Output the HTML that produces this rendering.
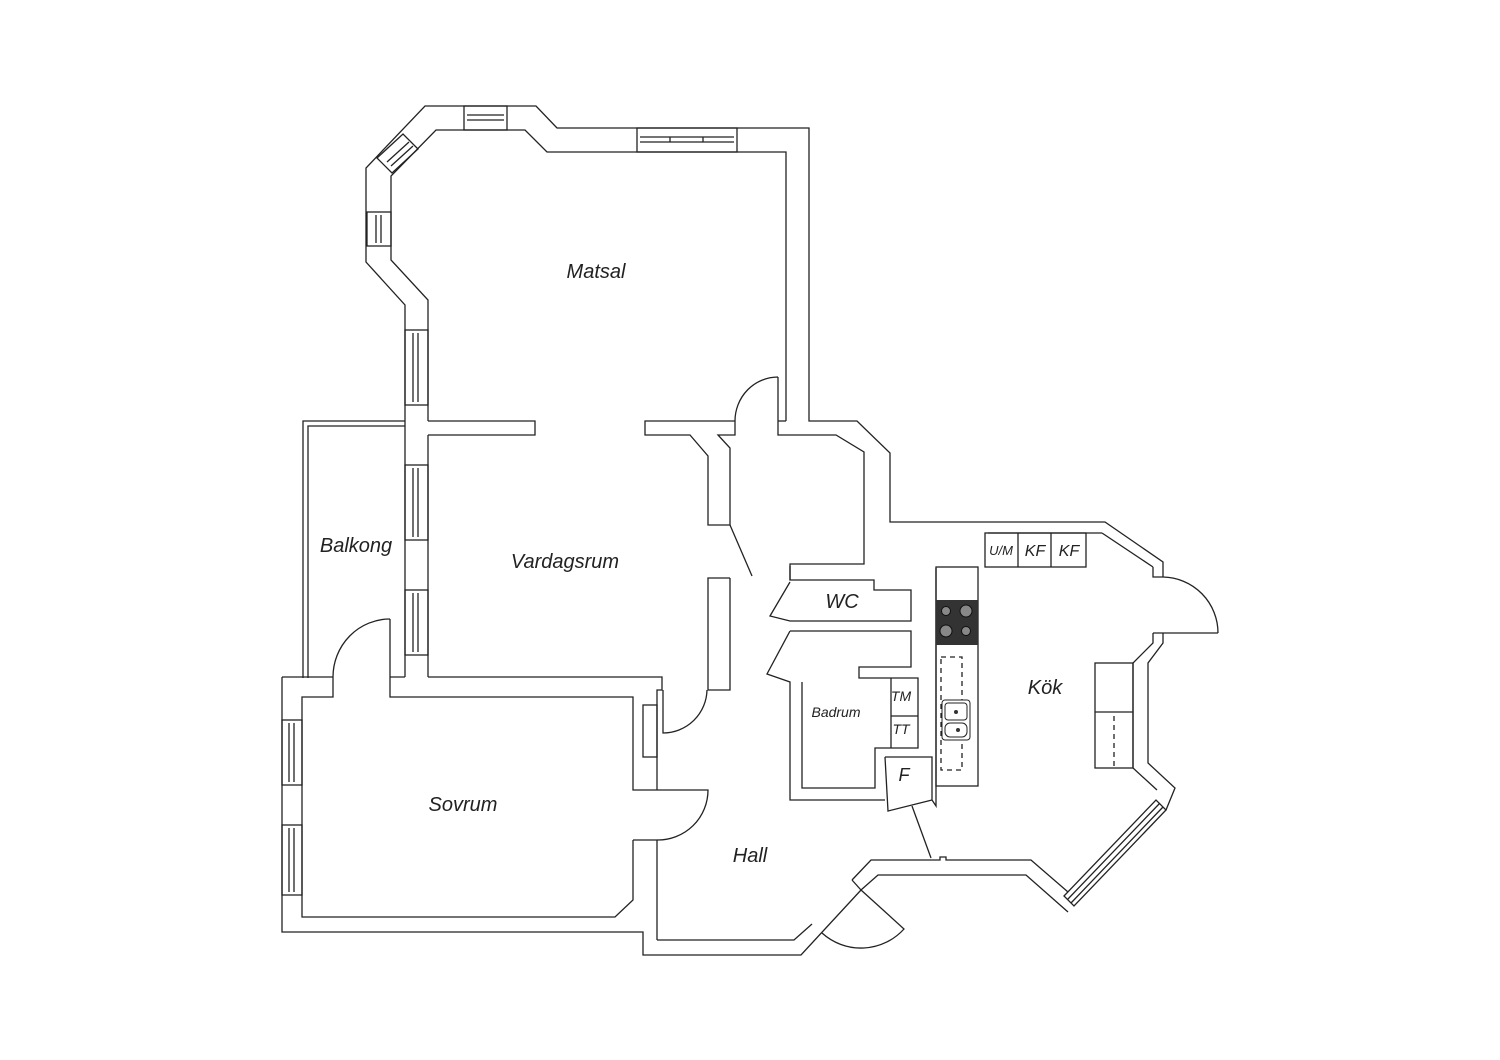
<!DOCTYPE html>
<html><head><meta charset="utf-8"><style>
html,body{margin:0;padding:0;background:#fff;width:1500px;height:1060px;overflow:hidden}
svg{display:block}
text{font-family:"Liberation Sans",sans-serif;font-style:italic;fill:#222}
</style></head><body>
<svg width="1500" height="1060" viewBox="0 0 1500 1060" xmlns="http://www.w3.org/2000/svg">
<g fill="none" stroke="#222" stroke-width="1.3" stroke-linejoin="miter">
<path d="M405,421 V305 L366,262 V168 L425,106 H536 L557,128 H809 V421 H857 L890,453 V522 H1105 L1163,562 V577"/>
<path d="M428,421 V300 L391,260 V176 L436,130 H525 L547,152 H786 V421"/>
<path d="M405,421 V677 M428,435 V677"/>
<path d="M428,421 H535 V435 H428"/>
<path d="M735,421 H645 V435 H690 L708,456 V525 H730 V448 L718,435 H735 V421"/>
<path d="M730,578 V690 H708 V578 H730"/>
<path d="M730,525 L752,576"/>
<path d="M778,377 V421 M778,377 A43,44 0 0 0 735,421"/>
<path d="M778,421 V435 H836 L864,452 V564 H790 V580"/>
<path d="M778,421 H786"/>
<path d="M303,678 V421 H405 M308,678 V426 H405"/>
<path d="M428,677 H662 V690 H657 V790"/>
<path d="M282,677 H333 M390,677 H405"/>
<path d="M390,619 V697 H633 V790 H657 M633,840 H657 V940"/>
<path d="M390,619 A57,58 0 0 0 333,677 V697 H302 V917 H615 L633,900 V840"/>
<path d="M282,677 V932 H643 V955 H801 L861,890 L878,875 H1026 L1068,912"/>
<rect x="643" y="705" width="14" height="52"/>
<path d="M663,690 V733 A44,44 0 0 0 707,690"/>
<path d="M657,790 H708 A50,50 0 0 1 657,840"/>
<path d="M657,940 H794 L812,924"/>
<path d="M852,880 L871,860 H940 V857 H946 V860 H1031 L1068,892"/>
<path d="M852,880 L861,890"/>
<path d="M861,890 L904,929 A58,58 0 0 1 822,933"/>
<path d="M1064,896 L1156,800 L1166,810 L1074,906 Z M1068,899 L1160,803 M1071,903 L1163,807"/>
<path d="M1166,810 L1175,788 L1148,763 V663 L1163,643 V633 M1157,790 L1133,768 V663 L1153,643 V633"/>
<path d="M1153,633 H1218 M1218,633 A56,56 0 0 0 1163,577 M1153,567 V577 H1163 M1102,533 H988 M1102,533 L1153,567"/>
<rect x="985" y="533" width="101" height="34"/>
<path d="M1018,533 V567 M1051,533 V567"/>
<rect x="936" y="567" width="42" height="219"/>
<rect x="1095" y="663" width="38" height="105"/>
<path d="M1095,712 H1133"/>
<path d="M1114,716 V766" stroke-dasharray="5,4"/>
<rect x="941" y="657" width="21" height="113" stroke-dasharray="5,4"/>
<path d="M790,566 V580 H874 V590 H911 V621 H790 L770,616 L790,582"/>
<path d="M790,631 H911 V667 H859 V678 H918 V748 H875 V788 H802 V682"/>
<path d="M790,631 L767,674 L790,682 V800 H885"/>
<path d="M891,678 V748 M891,716 H918"/>
<path d="M885,757 H932 V800 L888,811 L885,757 M932,800 L936,806 V568"/>
<path d="M912,806 L931,858"/>
<rect x="464" y="106" width="43" height="24"/>
<path d="M467,115 H504 M467,120 H504"/>
<rect x="637" y="128" width="100" height="24"/>
<path d="M640,137 H734 M640,142 H734 M670,137 V142 M703,137 V142"/>
<rect x="367" y="212" width="24" height="34"/>
<path d="M376,215 V243 M381,215 V243"/>
<path d="M377,158 L403,134 L418,149 L392,173 Z M387,162 L409,142 M391,166 L413,146"/>
<rect x="405" y="330" width="23" height="75"/>
<path d="M413,333 V402 M418,333 V402"/>
<rect x="405" y="465" width="23" height="75"/>
<path d="M413,468 V537 M418,468 V537"/>
<rect x="405" y="590" width="23" height="65"/>
<path d="M413,593 V652 M418,593 V652"/>
<rect x="282" y="720" width="20" height="65"/>
<path d="M289,723 V782 M294,723 V782"/>
<rect x="282" y="825" width="20" height="70"/>
<path d="M289,828 V892 M294,828 V892"/>
</g>
<rect x="936" y="600" width="42" height="45" fill="#333"/>
<circle cx="946" cy="611" r="4.5" fill="#888" stroke="#111"/>
<circle cx="966" cy="611" r="6" fill="#888" stroke="#111"/>
<circle cx="946" cy="631" r="6" fill="#888" stroke="#111"/>
<circle cx="966" cy="631" r="4.5" fill="#888" stroke="#111"/>
<rect x="942" y="700" width="28" height="40" rx="3" fill="#fff" stroke="#222"/>
<rect x="945" y="703" width="22" height="17" rx="3" fill="#fff" stroke="#222"/>
<rect x="945" y="723" width="22" height="14" rx="5" fill="#fff" stroke="#222"/>
<circle cx="956" cy="712" r="2" fill="#333"/><circle cx="958" cy="730" r="2" fill="#333"/>
<text x="596" y="278" font-size="20" text-anchor="middle">Matsal</text>
<text x="565" y="568" font-size="20" text-anchor="middle">Vardagsrum</text>
<text x="356" y="552" font-size="20" text-anchor="middle">Balkong</text>
<text x="463" y="811" font-size="20" text-anchor="middle">Sovrum</text>
<text x="750" y="862" font-size="20" text-anchor="middle">Hall</text>
<text x="1045" y="694" font-size="20" text-anchor="middle">Kök</text>
<text x="842" y="608" font-size="20" text-anchor="middle">WC</text>
<text x="836" y="717" font-size="14" text-anchor="middle">Badrum</text>
<text x="904" y="781" font-size="18" text-anchor="middle">F</text>
<text x="901" y="701" font-size="14" text-anchor="middle">TM</text>
<text x="901" y="734" font-size="14" text-anchor="middle">TT</text>
<text x="1001" y="555" font-size="13" text-anchor="middle">U/M</text>
<text x="1035" y="556" font-size="16" text-anchor="middle">KF</text>
<text x="1069" y="556" font-size="16" text-anchor="middle">KF</text>
</svg>
</body></html>
